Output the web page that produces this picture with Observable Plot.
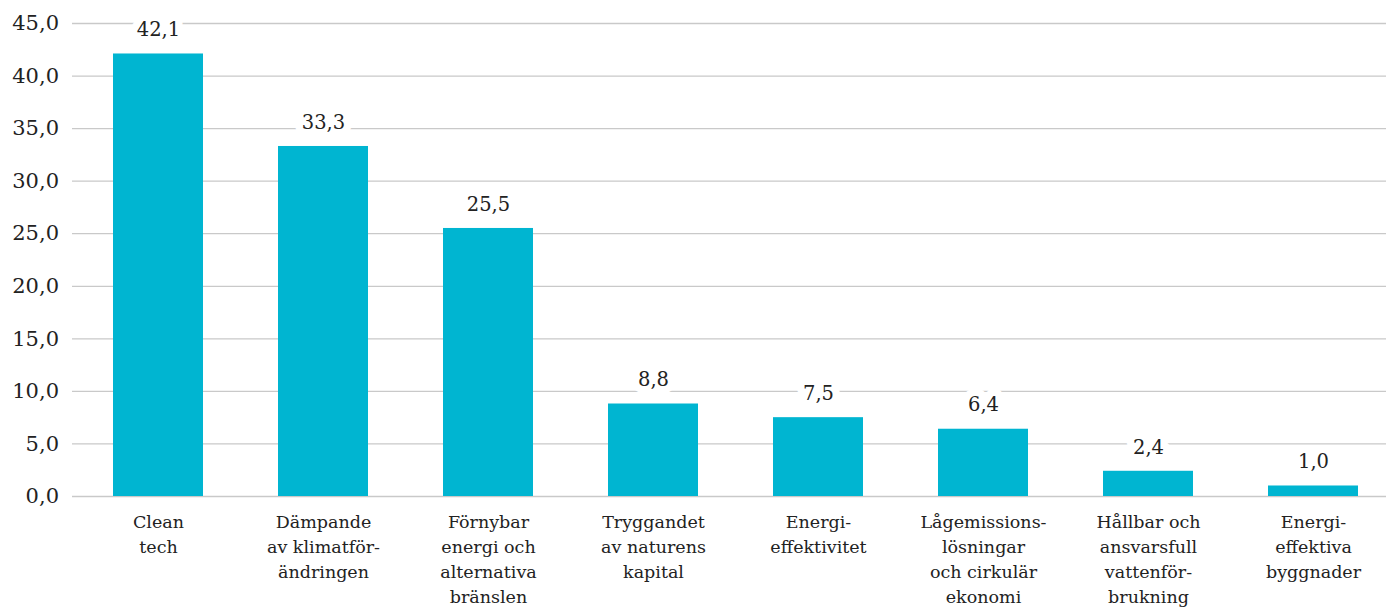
<!DOCTYPE html>
<html>
<head>
<meta charset="utf-8">
<script src="https://cdn.jsdelivr.net/npm/d3@7"></script>
<script src="https://cdn.jsdelivr.net/npm/@observablehq/plot@0.6"></script>
<style>
  html, body { margin: 0; padding: 0; background: #fff; overflow: hidden; }
  #chart { width: 1386px; height: 610px; overflow: hidden; }
</style>
</head>
<body>
<div id="chart"></div>
<script>
const categories = [
  "Clean\ntech",
  "Dämpande\nav klimatför-\nändringen",
  "Förnybar\nenergi och\nalternativa\nbränslen",
  "Tryggandet\nav naturens\nkapital",
  "Energi-\neffektivitet",
  "Lågemissions-\nlösningar\noch cirkulär\nekonomi",
  "Hållbar och\nansvarsfull\nvattenför-\nbrukning",
  "Energi-\neffektiva\nbyggnader"
];
const values = [42.1, 33.3, 25.5, 8.8, 7.5, 6.4, 2.4, 1.0];
const yTicks = [0, 5, 10, 15, 20, 25, 30, 35, 40, 45];

const data = categories.map((c, i) => ({category: c, value: values[i]}));
const fmt = v => d3.format(".1f")(v).replace(".", ",");
const font = "'DejaVu Serif', serif";

const chart = Plot.plot({
  width: 1386,
  height: 610,
  marginLeft: 75.5,
  marginRight: -9.5,
  marginTop: 23,
  marginBottom: 114,
  style: {fontFamily: font, color: "#222", background: "#fff", overflow: "hidden"},
  x: {domain: categories, paddingInner: 0.455, paddingOuter: 0.2275, label: null},
  y: {domain: [0, 45], label: null},
  marks: [
    Plot.ruleY(yTicks, {stroke: "#c9c9c9", strokeWidth: 1.3, insetLeft: -3.5}),
    Plot.barY(data, {x: "category", y: "value", fill: "#00b5d1"}),
    Plot.text(data, {
      x: "category", y: "value", text: d => fmt(d.value),
      dy: -24, fontSize: 19.5, fill: "#222",
      stroke: "white", strokeWidth: 15, strokeLinejoin: "round", paintOrder: "stroke"
    }),
    Plot.axisY({ticks: yTicks, tickFormat: fmt, tickSize: 0, tickPadding: 17, fontSize: 21, label: null}),
    Plot.axisX({tickSize: 0, tickPadding: 14, fontSize: 17.5, lineHeight: 1.42, label: null, lineAnchor: "top"})
  ]
});
document.getElementById("chart").appendChild(chart);
</script>
</body>
</html>
